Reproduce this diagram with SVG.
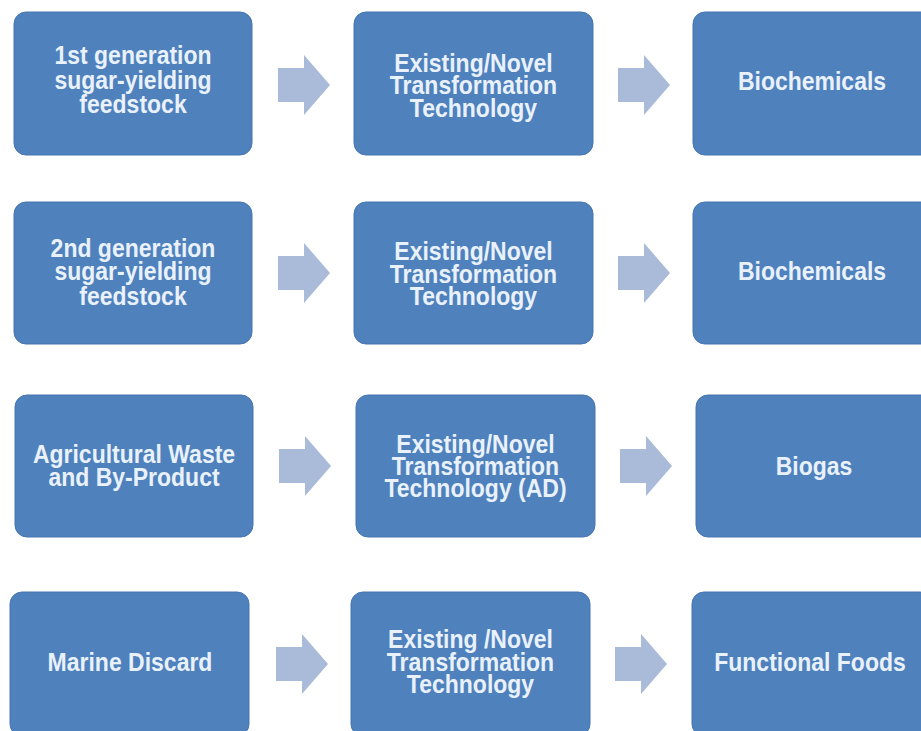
<svg xmlns="http://www.w3.org/2000/svg" xmlns:xlink="http://www.w3.org/1999/xlink" width="921" height="731" viewBox="0 0 921 731">
<style>
.box{fill:#4f81bd;stroke:#4675b0;stroke-width:1}
.lbl{font-family:"Liberation Sans",Arial,Helvetica,sans-serif;font-weight:bold;font-size:23px;fill:#e9f1fb;text-anchor:middle}
.arr{fill:#a9bbd8}
</style>
<defs>
<path id="arrow" d="M0,-17 H26 V-30 L52,0 L26,30 V17 H0 Z"/>
</defs>
<rect width="921" height="731" fill="#ffffff"/>
<g id="connectors" class="arr">
<use xlink:href="#arrow" transform="translate(278,85)"/>
<use xlink:href="#arrow" transform="translate(618,85)"/>
<use xlink:href="#arrow" transform="translate(278,273)"/>
<use xlink:href="#arrow" transform="translate(618,273)"/>
<use xlink:href="#arrow" transform="translate(279,466)"/>
<use xlink:href="#arrow" transform="translate(620,466)"/>
<use xlink:href="#arrow" transform="translate(276,664)"/>
<use xlink:href="#arrow" transform="translate(615,664)"/>
</g>
<g id="r1c1"><rect class="box" x="14" y="12" width="238" height="143" rx="12"/>
<text class="lbl" transform="matrix(1 0 0 1.12 133 64)"><tspan x="0" y="0">1st generation</tspan><tspan x="0" y="21.9">sugar-yielding</tspan><tspan x="0" y="43.8">feedstock</tspan></text></g>
<g id="r1c2"><rect class="box" x="354" y="12" width="239" height="143" rx="12"/>
<text class="lbl" transform="matrix(1 0 0 1.12 473.5 72)"><tspan x="0" y="0">Existing/Novel</tspan><tspan x="0" y="19.9">Transformation</tspan><tspan x="0" y="39.8">Technology</tspan></text></g>
<g id="r1c3"><rect class="box" x="693" y="12" width="240" height="143" rx="12"/>
<text class="lbl" transform="matrix(1 0 0 1.12 812 90)">Biochemicals</text></g>
<g id="r2c1"><rect class="box" x="14" y="202" width="238" height="142" rx="12"/>
<text class="lbl" transform="matrix(1 0 0 1.12 133 256.5)"><tspan x="0" y="0">2nd generation</tspan><tspan x="0" y="21.4">sugar-yielding</tspan><tspan x="0" y="42.9">feedstock</tspan></text></g>
<g id="r2c2"><rect class="box" x="354" y="202" width="239" height="142" rx="12"/>
<text class="lbl" transform="matrix(1 0 0 1.12 473.5 260)"><tspan x="0" y="0">Existing/Novel</tspan><tspan x="0" y="20.1">Transformation</tspan><tspan x="0" y="40.2">Technology</tspan></text></g>
<g id="r2c3"><rect class="box" x="693" y="202" width="240" height="142" rx="12"/>
<text class="lbl" transform="matrix(1 0 0 1.12 812 280)">Biochemicals</text></g>
<g id="r3c1"><rect class="box" x="15" y="395" width="238" height="142" rx="12"/>
<text class="lbl" transform="matrix(1 0 0 1.12 134 463)"><tspan x="0" y="0">Agricultural Waste</tspan><tspan x="0" y="20.5">and By-Product</tspan></text></g>
<g id="r3c2"><rect class="box" x="356" y="395" width="239" height="142" rx="12"/>
<text class="lbl" transform="matrix(1 0 0 1.12 475.5 453)"><tspan x="0" y="0">Existing/Novel</tspan><tspan x="0" y="19.6">Transformation</tspan><tspan x="0" y="39.3">Technology (AD)</tspan></text></g>
<g id="r3c3"><rect class="box" x="696" y="395" width="240" height="142" rx="12"/>
<text class="lbl" transform="matrix(1 0 0 1.12 814 475)">Biogas</text></g>
<g id="r4c1"><rect class="box" x="10" y="592" width="239" height="144" rx="12"/>
<text class="lbl" transform="matrix(1 0 0 1.12 130 671)">Marine Discard</text></g>
<g id="r4c2"><rect class="box" x="351" y="592" width="239" height="144" rx="12"/>
<text class="lbl" transform="matrix(1 0 0 1.12 470.5 648)"><tspan x="0" y="0">Existing /Novel</tspan><tspan x="0" y="20.1">Transformation</tspan><tspan x="0" y="40.2">Technology</tspan></text></g>
<g id="r4c3"><rect class="box" x="692" y="592" width="240" height="144" rx="12"/>
<text class="lbl" transform="matrix(1 0 0 1.12 810 671)">Functional Foods</text></g>
</svg>
